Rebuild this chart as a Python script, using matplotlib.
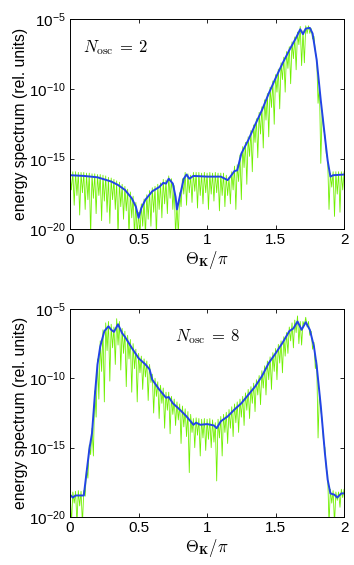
import numpy as np
import matplotlib
matplotlib.use("Agg")
import matplotlib.pyplot as plt

plt.rcParams["font.family"] = ["Liberation Sans", "DejaVu Sans"]
plt.rcParams["mathtext.fontset"] = "custom"
plt.rcParams["mathtext.rm"] = "Liberation Sans"
plt.rcParams["mathtext.it"] = "Liberation Sans:italic"

# ─── data (log10 of spectrum) ───────────────────────────
# blue envelope, N_osc = 2
top_blue_x = [0.0, 0.1, 0.2, 0.3, 0.35, 0.4, 0.45, 0.48, 0.5, 0.52, 0.55, 0.6, 0.65, 0.68, 0.7,
              0.72, 0.75, 0.77, 0.78, 0.8, 0.83, 0.85, 0.87, 0.9, 1.0, 1.1, 1.15, 1.17, 1.2, 1.22,
              1.25, 1.3, 1.35, 1.4, 1.45, 1.5, 1.55, 1.6, 1.65, 1.68, 1.7, 1.72, 1.75, 1.77, 1.8,
              1.83, 1.86, 1.88, 1.9, 1.92, 2.0]
top_blue_y = [-16.15, -16.2, -16.3, -16.6, -16.85, -17.2, -17.8, -18.4, -19.2, -18.5, -17.9, -17.3,
              -17.0, -16.7, -16.75, -16.4, -16.75, -17.7, -18.6, -17.7, -16.4, -16.1, -16.4, -16.2,
              -16.25, -16.25, -16.5, -16.25, -15.85, -15.8, -14.6, -13.65, -12.55, -11.5, -10.3,
              -9.2, -8.15, -7.2, -6.3, -5.7, -6.05, -5.65, -5.6, -6.0, -7.9, -10.8, -13.4, -15.1,
              -16.25, -16.15, -16.1]

# green spectrum, N_osc = 2: maxima at 0, 0.02, ... 2 and minima at 0.01, 0.03, ... 1.99
top_green_max = [-15.9, -15.9, -15.9, -15.95, -15.95, -15.95, -16.0, -16.0, -16.05, -16.05,
                 -16.1, -16.1, -16.15, -16.2, -16.3, -16.35, -16.45, -16.55, -16.65, -16.8,
                 -16.95, -17.15, -17.35, -17.65, -18.1, -18.8, -18.2, -17.85, -17.55, -17.25,
                 -17.05, -16.95, -16.8, -16.7, -16.45, -16.5, -16.2, -16.4, -16.9, -18.2,
                 -17.4, -16.4, -15.95, -16.05, -16.15, -15.95, -15.95, -15.95, -16.0, -15.95,
                 -16.0, -15.95, -16.0, -15.95, -16.0, -16.0, -16.0, -16.15, -16.3, -15.9,
                 -15.5, -15.4, -14.7, -14.1, -13.8, -13.4, -12.95, -12.55, -12.1, -11.65,
                 -11.25, -10.75, -10.3, -9.85, -9.4, -8.95, -8.55, -8.1, -7.7, -7.3,
                 -6.95, -6.6, -6.25, -5.9, -5.5, -5.8, -5.45, -5.45, -5.65, -6.2,
                 -7.8, -9.7, -11.5, -13.3, -15.0, -16.0, -15.9, -15.9, -15.9, -15.9,
                 -15.9]
top_green_min = [-17.2, -18.3, -17.6, -19.0, -17.4, -18.6, -17.9, -20.5, -17.8, -18.9,
                 -17.6, -19.4, -18.0, -18.8, -19.6, -17.9, -18.6, -20.5, -18.4, -19.3,
                 -18.7, -20.5, -19.2, -20.5, -20.5, -20.5, -19.8, -20.5, -19.3, -19.8,
                 -18.8, -20.5, -18.6, -19.2, -18.2, -18.9, -17.8, -18.6, -20.5, -20.5,
                 -18.4, -17.5, -18.3, -17.4, -18.1, -17.3, -18.5, -17.6, -18.2, -17.4,
                 -18.6, -17.5, -18.0, -17.4, -18.7, -17.6, -18.4, -17.6, -18.2, -17.2,
                 -18.6, -16.6, -17.9, -15.6, -16.8, -14.8, -15.9, -13.8, -14.9, -13.2,
                 -14.2, -12.2, -13.4, -11.3, -12.5, -10.2, -11.4, -9.3, -10.2, -8.5,
                 -9.6, -7.8, -8.6, -6.8, -8.3, -8.1, -6.0, -6.0, -6.4, -7.3,
                 -11.0, -15.3, -12.8, -14.6, -18.6, -17.0, -19.1, -17.5, -18.8, -17.2]

# blue envelope, N_osc = 8
bot_blue_x = [0.0, 0.02, 0.04, 0.1, 0.12, 0.14, 0.16, 0.18, 0.2, 0.22, 0.25, 0.28, 0.3, 0.32,
              0.35, 0.38, 0.4, 0.45, 0.5, 0.55, 0.58, 0.6, 0.65, 0.7, 0.72, 0.75, 0.8, 0.85,
              0.9, 0.92, 0.95, 1.0, 1.05, 1.07, 1.1, 1.15, 1.2, 1.25, 1.3, 1.35, 1.4, 1.45,
              1.5, 1.55, 1.6, 1.63, 1.66, 1.69, 1.72, 1.75, 1.78, 1.8, 1.83, 1.86, 1.88, 1.9,
              1.93, 1.95, 1.98, 2.0]
bot_blue_y = [-18.4, -18.6, -18.45, -18.45, -16.8, -15.15, -13.95, -11.3, -9.0, -7.7, -6.6,
              -6.25, -6.5, -6.65, -6.1, -6.75, -7.0, -7.8, -8.55, -9.0, -9.35, -10.1, -10.8,
              -11.4, -11.35, -11.8, -12.25, -12.75, -13.35, -13.2, -13.35, -13.3, -13.4, -13.6,
              -13.1, -12.75, -12.25, -11.8, -11.2, -10.6, -9.85, -8.9, -8.2, -7.45, -6.6, -6.4,
              -5.9, -6.5, -5.95, -6.5, -7.7, -9.1, -12.0, -15.4, -17.3, -18.3, -18.4, -18.6,
              -18.3, -18.3]

bot_green_max = [-18.15, -18.2, -18.15, -18.1, -18.15, -18.1, -16.5, -14.8, -13.6, -10.9,
                 -8.6, -7.3, -6.5, -6.0, -5.9, -6.1, -6.3, -5.7, -5.9, -6.4,
                 -6.6, -6.9, -7.2, -7.5, -7.9, -8.2, -8.4, -8.6, -8.75, -9.0,
                 -9.7, -10.0, -10.25, -10.5, -10.7, -11.0, -11.0, -11.3, -11.5, -11.7,
                 -11.85, -12.0, -12.2, -12.4, -12.6, -12.9, -12.85, -12.9, -12.95, -12.9,
                 -12.95, -12.9, -13.0, -13.2, -12.95, -12.75, -12.6, -12.45, -12.25, -12.05,
                 -11.85, -11.7, -11.5, -11.3, -11.05, -10.8, -10.6, -10.35, -10.1, -9.8,
                 -9.45, -9.1, -8.75, -8.45, -8.15, -7.85, -7.55, -7.3, -7.0, -6.7,
                 -6.3, -6.0, -5.8, -5.5, -5.9, -5.9, -5.6, -5.9, -6.6, -7.4,
                 -8.7, -11.0, -13.0, -15.0, -16.9, -18.0, -18.1, -18.2, -18.2, -18.0,
                 -18.0]
bot_green_min = [-20.5, -19.0, -20.5, -19.2, -20.5, -18.5, -17.2, -15.5, -15.6, -12.8,
                 -11.5, -9.5, -11.7, -8.0, -10.2, -7.8, -9.0, -7.6, -9.4, -8.2,
                 -10.6, -8.6, -11.0, -9.3, -11.7, -9.6, -10.8, -9.9, -11.6, -10.3,
                 -12.5, -11.3, -12.9, -11.8, -13.6, -12.3, -14.0, -12.6, -13.4, -13.0,
                 -14.7, -13.5, -14.2, -16.8, -13.9, -15.0, -14.1, -15.6, -14.3, -15.2,
                 -14.4, -15.0, -14.6, -17.4, -14.3, -15.6, -13.9, -14.7, -13.6, -14.2,
                 -13.2, -13.9, -12.8, -13.4, -12.3, -12.9, -11.8, -12.4, -11.2, -11.9,
                 -10.7, -11.2, -10.1, -10.8, -9.5, -10.1, -8.9, -9.6, -8.4, -8.2,
                 -7.3, -7.8, -6.7, -7.5, -7.6, -6.2, -6.3, -6.9, -7.9, -9.3,
                 -14.3, -12.3, -14.6, -16.5, -20.5, -19.0, -20.5, -18.8, -19.3, -18.6]

labels = [r"$N_{\rm osc}\:=\:2$", r"$N_{\rm osc}\:=\:8$"]
ytick_vals = [1e-20, 1e-15, 1e-10, 1e-5]
ytick_text = [r"$10^{-20}$", r"$10^{-15}$", r"$10^{-10}$", r"$10^{-5}$"]
xtick_vals = [0, 0.5, 1, 1.5, 2]
xtick_text = ["0", "0.5", "1", "1.5", "2"]

GREEN = "#70f000"
BLUE = "#2244e6"


def green_series(gmax, gmin):
    xs, ys = [], []
    for i, v in enumerate(gmax):
        xs.append(0.02 * i); ys.append(v)
        if i < len(gmin):
            xs.append(0.02 * i + 0.01); ys.append(gmin[i])
    return np.array(xs), 10.0 ** np.array(ys)


fig = plt.figure(figsize=(3.54, 5.65), dpi=100)
boxes = [[0.198, 0.5947, 0.774, 0.3708], [0.198, 0.085, 0.774, 0.3681]]
panels = [(top_blue_x, top_blue_y, top_green_max, top_green_min, 0.047, 0.864),
          (bot_blue_x, bot_blue_y, bot_green_max, bot_green_min, 0.383, 0.865)]

for box, (bx, by, gmax, gmin, tx, ty), lab in zip(boxes, panels, labels):
    ax = fig.add_axes(box)
    gx, gy = green_series(gmax, gmin)
    ax.plot(gx, gy, color=GREEN, lw=0.6)
    ax.plot(bx, 10.0 ** np.array(by), color=BLUE, lw=1.4)
    ax.set_yscale("log")
    ax.set_ylim(1e-20, 1e-5)
    ax.set_xlim(0, 2)
    ax.set_yticks(ytick_vals)
    ax.set_yticklabels(ytick_text)
    ax.minorticks_off()
    ax.set_xticks(xtick_vals)
    ax.set_xticklabels(xtick_text)
    ax.tick_params(direction="in", length=3, width=0.6, top=True, right=True,
                   labelsize=11, pad=3)
    for s in ax.spines.values():
        s.set_linewidth(0.7)
    ax.set_ylabel("energy spectrum (rel. units)", fontsize=11.3, labelpad=1)
    ax.set_xlabel(r"$\Theta_{\mathbf{K}}/\pi$", fontsize=12, math_fontfamily="cm", labelpad=1)
    ax.text(tx, ty, lab, transform=ax.transAxes, fontsize=12, math_fontfamily="cm",
            va="center", ha="left")

fig.savefig("out.png", dpi=100)
